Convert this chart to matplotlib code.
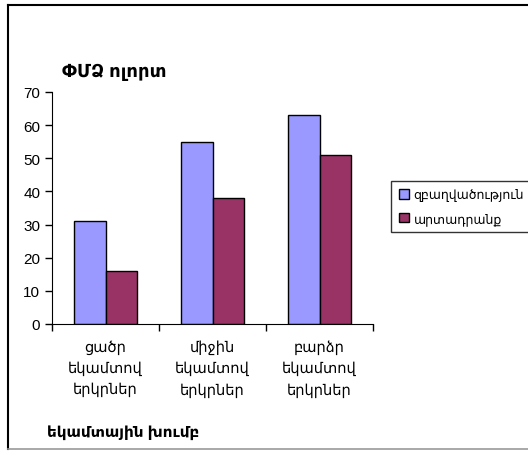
import matplotlib
matplotlib.use("Agg")
import matplotlib.pyplot as plt
from matplotlib.lines import Line2D
import numpy as np

plt.rcParams['font.family'] = ['Liberation Sans', 'DejaVu Sans']

categories = ["ցածր\nեկամտով\nերկրներ", "միջին\nեկամտով\nերկրներ", "բարձր\nեկամտով\nերկրներ"]
employment = [31, 55, 63]
output = [16, 38, 51]
series_names = ["զբաղվածություն", "արտադրանք"]

W, H = 528, 452
fig = plt.figure(figsize=(W / 100, H / 100), dpi=100)
ax = fig.add_axes([52 / W, 1 - 325 / H, (373 - 52) / W, (325 - 93) / H])

x = np.arange(len(categories))
bw = 0.29
ax.bar(x - bw / 2, employment, bw, color='#9999FF', edgecolor='black', linewidth=1, label=series_names[0])
ax.bar(x + bw / 2, output, bw, color='#993366', edgecolor='black', linewidth=1, label=series_names[1])

ax.set_xlim(-0.5, 2.5)
ax.set_ylim(0, 70)
ax.set_yticks(range(0, 71, 10))
ax.tick_params(axis='y', direction='out', length=5, labelsize=11, width=1)
ax.set_xticks(x)
ax.set_xticklabels(categories, fontsize=10.5, linespacing=1.6)
ax.set_xticks(np.arange(-0.5, 3, 1), minor=True)
ax.tick_params(axis='x', which='major', length=0, pad=11)
ax.tick_params(axis='x', which='minor', direction='out', length=5, width=1)
for s in ['top', 'right']:
    ax.spines[s].set_visible(False)

fig.text(62 / W, 1 - 72 / H, "ՓՄՁ ոլորտ", fontsize=13, fontweight='bold', va='center', ha='left')
fig.text(47 / W, 1 - 433 / H, "եկամտային խումբ", fontsize=11, fontweight='bold', va='center', ha='left')

leg = fig.legend(loc='upper left', bbox_to_anchor=(391 / W, 1 - 182 / H), fontsize=9,
                 frameon=True, fancybox=False, edgecolor='black', handlelength=0.8,
                 handleheight=0.8, handletextpad=0.4, borderpad=0.6, labelspacing=0.85,
                 borderaxespad=0)
leg.get_frame().set_linewidth(1)

# chart border
fig.add_artist(Line2D([8 / W, 1], [1 - 6 / H, 1 - 6 / H], color='black', lw=1.5))
fig.add_artist(Line2D([8 / W, 8 / W], [1 - 6 / H, 1 - 450 / H], color='black', lw=1.5))
fig.add_artist(Line2D([8 / W, 1], [1 - 450 / H, 1 - 450 / H], color='#999999', lw=1.2))

fig.savefig("out.png", dpi=100)
